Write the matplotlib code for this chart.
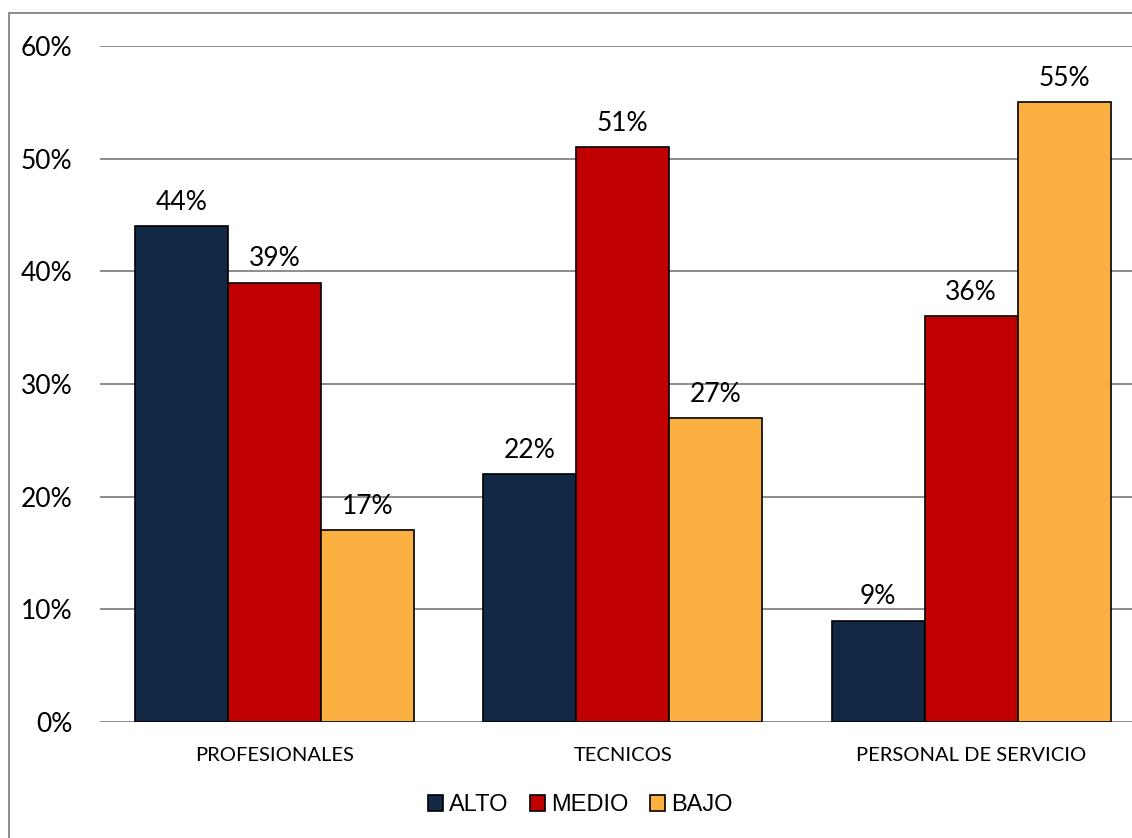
import matplotlib.pyplot as plt
from matplotlib.lines import Line2D
import numpy as np

categories = ["PROFESIONALES", "TECNICOS", "PERSONAL DE SERVICIO"]
series_names = ["ALTO", "MEDIO", "BAJO"]
alto = [44, 22, 9]
medio = [39, 51, 36]
bajo = [17, 27, 55]
y_ticks = [0, 10, 20, 30, 40, 50, 60]
y_tick_labels = ["0%", "10%", "20%", "30%", "40%", "50%", "60%"]

colors = ["#132845", "#C00000", "#FDB042"]
W, H = 1132, 838
fig = plt.figure(figsize=(W / 100, H / 100), dpi=100)

# plot area: left edge at 100px, category width 348.5px (runs past the right edge)
left, bottom, top = 100, 722, 46
cat_w = 348.5
ax = fig.add_axes([left / W, 1 - bottom / H, 3 * cat_w / W, (bottom - top) / H])
ax.set_xlim(-0.5, 2.5)
ax.set_ylim(0, 60)

label_font = ["Lato", "DejaVu Sans"]
bw = 0.267
x = np.arange(len(categories))
for i, (vals, name) in enumerate(zip([alto, medio, bajo], series_names)):
    bars = ax.bar(x + (i - 1) * bw, vals, width=bw, color=colors[i],
                  edgecolor="black", linewidth=1.2, label=name, zorder=3)
    for b, v in zip(bars, vals):
        ax.annotate(f"{v}%", (b.get_x() + b.get_width() / 2, v),
                    xytext=(0, 8), textcoords="offset points",
                    ha="center", va="bottom", fontsize=19,
                    family=label_font, color="black")

ax.set_yticks(y_ticks)
ax.set_yticklabels(y_tick_labels, fontsize=19, family=label_font)
ax.set_xticks(x)
ax.set_xticklabels(categories, fontsize=14.5, family=label_font)
ax.tick_params(axis="y", length=0, pad=20)
ax.tick_params(axis="x", length=0, pad=18)
for s in ax.spines.values():
    s.set_visible(False)
ax.yaxis.grid(True, color="#8C8C8C", linewidth=1.4, zorder=0)
ax.set_axisbelow(True)

leg = ax.legend(loc="center", bbox_to_anchor=(580 / W, 1 - 805 / H),
                bbox_transform=fig.transFigure, ncol=3, frameon=False,
                prop={"family": "Liberation Sans", "size": 17},
                handlelength=0.65, handleheight=0.65, handletextpad=0.25,
                columnspacing=0.9)

# chart frame
fc = "#8C8C8C"
fig.add_artist(Line2D([9 / W, 9 / W], [0, 1 - 13 / H], color=fc, linewidth=1.4,
                      transform=fig.transFigure))
fig.add_artist(Line2D([9 / W, 1], [1 - 13 / H, 1 - 13 / H], color=fc, linewidth=1.4,
                      transform=fig.transFigure))

fig.savefig("out.png", dpi=100)
